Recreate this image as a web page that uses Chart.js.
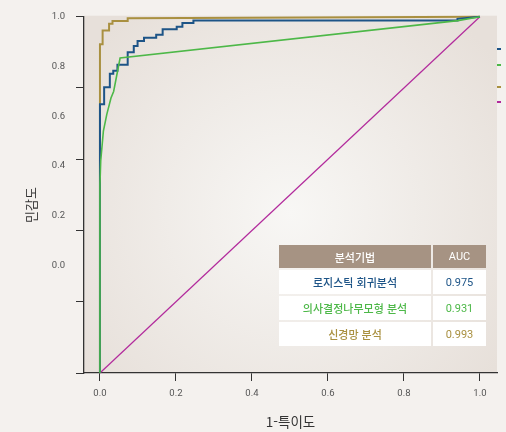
<!DOCTYPE html>
<html lang="ko">
<head>
<meta charset="utf-8">
<script src="https://cdn.jsdelivr.net/npm/chart.js@4.4.1/dist/chart.umd.min.js"></script>
<style>
  html, body { margin: 0; padding: 0; background: #f4f1ee; }
  #wrap { position: relative; width: 506px; height: 432px; }
  #roc { display: block; }
  .auc-table {
    position: absolute; left: 279px; top: 245px;
    display: grid; grid-template-columns: 152px 53px; grid-template-rows: 23px 24px 24px 24px;
    gap: 2px; font-family: "Noto Sans CJK KR", sans-serif; font-size: 11px; font-weight: 500;
  }
  .auc-table div { display: flex; align-items: center; justify-content: center; background: #fff; }
  .auc-table .head { background: #a69383; color: #fff; }
  .auc-table .num { font-family: Roboto, sans-serif; font-size: 11px; font-weight: 400; }
</style>
</head>
<body>
<div id="wrap">
  <canvas id="roc" width="506" height="432"></canvas>
  <div class="auc-table" id="aucTable"></div>
</div>
<script>
// tick labels
const xTicks = [0, 0.2, 0.4, 0.6, 0.8, 1.0];
const yTicks = [0, 0.2, 0.4, 0.6, 0.8, 1.0];

// methods + AUC
const methodNames = ['로지스틱 회귀분석', '의사결정나무모형 분석', '신경망 분석'];
const aucValues = [0.975, 0.931, 0.993];

// ROC points (1-specificity, sensitivity)
const logitFpr = [0, 0, 0.011, 0.011, 0.026, 0.026, 0.035, 0.035, 0.046, 0.046, 0.073, 0.073, 0.089, 0.089,
                  0.099, 0.099, 0.116, 0.116, 0.148, 0.148, 0.165, 0.165, 0.202, 0.202, 0.217, 0.217, 0.246, 0.246,
                  0.941, 0.941, 1.0];
const logitTpr = [0, 0.754, 0.754, 0.802, 0.802, 0.840, 0.840, 0.848, 0.848, 0.865, 0.865, 0.900, 0.900, 0.918,
                  0.918, 0.932, 0.932, 0.941, 0.941, 0.949, 0.949, 0.965, 0.965, 0.972, 0.972, 0.982, 0.982, 0.989,
                  0.989, 0.994, 1.0];

const treeFpr = [0, 0, 0.002, 0.009, 0.018, 0.029, 0.036, 0.053, 0.942, 1.0];
const treeTpr = [0, 0.53, 0.595, 0.679, 0.726, 0.772, 0.790, 0.884, 0.989, 1.0];

const nnFpr = [0, 0, 0.007, 0.007, 0.024, 0.024, 0.033, 0.033, 0.073, 0.073, 1.0];
const nnTpr = [0, 0.923, 0.923, 0.961, 0.961, 0.980, 0.980, 0.988, 0.988, 0.996, 1.0];

const refFpr = [0, 1];
const refTpr = [0, 1];

const methodColors = ['#1d5487', '#4db848', '#a99040'];
const refColor = '#b22a9c';

const toPoints = (xs, ys) => xs.map((x, i) => ({ x: x, y: ys[i] }));

// AUC table
const table = document.getElementById('aucTable');
table.innerHTML = '<div class="head">분석기법</div><div class="head num">AUC</div>';
methodNames.forEach((name, i) => {
    table.innerHTML += '<div style="color:' + methodColors[i] + '">' + name + '</div>' +
        '<div class="num" style="color:' + methodColors[i] + '">' + aucValues[i].toFixed(3) + '</div>';
});

// radial background of the plot area
const plotBg = {
    id: 'plotBg',
    beforeDraw(chart) {
        const { ctx, chartArea: a } = chart;
        const cx = a.left + a.width * 0.5, cy = a.top + a.height * 0.55;
        const g = ctx.createRadialGradient(cx, cy, 0, cx, cy, a.width * 0.62);
        g.addColorStop(0, '#f8f7f5');
        g.addColorStop(1, '#e7e0da');
        ctx.save();
        ctx.fillStyle = g;
        ctx.fillRect(a.left, a.top - 1, a.width, a.height + 1);
        ctx.restore();
    }
};

// little colour stubs at the right edge
const stubs = {
    id: 'stubs',
    afterDraw(chart, args, opts) {
        const { ctx, chartArea: a } = chart;
        ctx.save();
        ctx.lineWidth = 2;
        opts.ys.forEach((y, i) => {
            ctx.strokeStyle = opts.colors[i];
            ctx.beginPath();
            ctx.moveTo(a.right, y);
            ctx.lineTo(a.right + 4, y);
            ctx.stroke();
        });
        ctx.restore();
    }
};

const tickFont = { family: 'Roboto, sans-serif', size: 9.5 };
const axisColor = '#333';

new Chart(document.getElementById('roc'), {
    type: 'line',
    data: {
        datasets: [
            { data: toPoints(treeFpr, treeTpr), borderColor: methodColors[1], borderWidth: 1.6 },
            { data: toPoints(logitFpr, logitTpr), borderColor: methodColors[0], borderWidth: 2 },
            { data: toPoints(nnFpr, nnTpr), borderColor: methodColors[2], borderWidth: 2 },
            { data: toPoints(refFpr, refTpr), borderColor: refColor, borderWidth: 1.2 }
        ]
    },
    options: {
        responsive: false,
        animation: false,
        layout: { padding: { left: 0, top: 15, right: 9, bottom: 0 } },
        elements: { point: { radius: 0 }, line: { tension: 0 } },
        datasets: { line: { clip: 4 } },
        plugins: {
            legend: { display: false },
            tooltip: { enabled: false },
            stubs: { ys: [49, 65, 87, 102], colors: [methodColors[0], methodColors[1], methodColors[2], refColor] }
        },
        scales: {
            x: {
                type: 'linear',
                min: -0.042,
                max: 1.045,
                afterBuildTicks: s => { s.ticks = xTicks.map(v => ({ value: v })); },
                afterFit: s => { s.height = 59; },
                grid: { drawOnChartArea: false, tickLength: 8, color: axisColor },
                border: { color: axisColor, width: 1.3 },
                ticks: { font: tickFont, color: '#555', padding: 7, maxRotation: 0, callback: v => v.toFixed(1) },
                title: {
                    display: true, text: '1-특이도', color: '#333',
                    font: { family: '"Noto Sans CJK KR", sans-serif', size: 13.5 },
                    padding: { top: 0, bottom: 2 }
                }
            },
            y: {
                type: 'linear',
                position: 'left',
                weight: 0,
                min: 0,
                max: 1,
                ticks: { display: false, stepSize: 0.2 },
                afterFit: s => { s.width = 8; },
                grid: { drawOnChartArea: false, tickLength: 8, color: axisColor },
                border: { color: axisColor, width: 1.3 }
            },
            // labels sit on their own scale, as in the original figure
            yLab: {
                type: 'linear',
                position: 'left',
                weight: 1,
                min: -0.432,
                max: 1.0,
                afterBuildTicks: s => { s.ticks = yTicks.map(v => ({ value: v })); },
                afterFit: s => { s.width = 76; },
                grid: { display: false, drawTicks: false },
                border: { display: false },
                ticks: { font: tickFont, color: '#555', padding: 11, callback: v => v.toFixed(1) },
                title: {
                    display: true, text: '민감도       ', color: '#333',
                    font: { family: '"Noto Sans CJK KR", sans-serif', size: 13 },
                    padding: { top: 23, bottom: 0 }
                }
            }
        }
    },
    plugins: [plotBg, stubs]
});
</script>
</body>
</html>
